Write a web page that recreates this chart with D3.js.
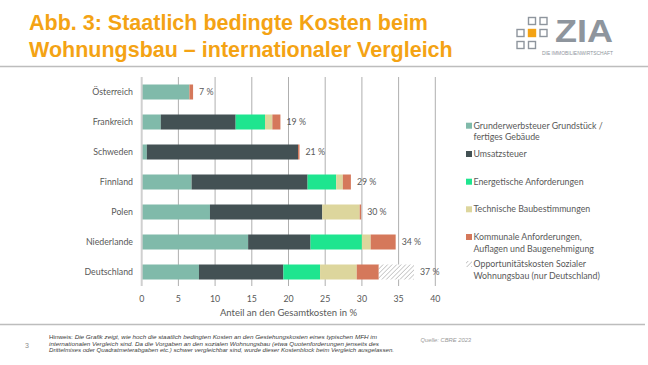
<!DOCTYPE html>
<html><head><meta charset="utf-8">
<script src="https://cdn.jsdelivr.net/npm/d3@7"></script>
<style>body{margin:0;background:#fff}svg{display:block}</style>
</head><body>
<svg id="c" width="648" height="365"></svg>
<script>
const categories = ["Österreich","Frankreich","Schweden","Finnland","Polen","Niederlande","Deutschland"];
const grunderwerb = [6.5, 2.6, 0.7, 6.8, 9.3, 14.5, 7.8];
const umsatz      = [0, 10.2, 20.6, 15.8, 15.3, 8.5, 11.5];
const energetisch = [0, 4.0, 0, 3.9, 0, 7.0, 5.0];
const technisch   = [0, 1.0, 0, 0.9, 5.1, 1.2, 5.0];
const kommunal    = [0.5, 1.1, 0.2, 1.1, 0.2, 3.4, 3.0];
const opportunitaet = [0, 0, 0, 0, 0, 0, 4.8];
const totalLabels = ["7 %","19 %","21 %","29 %","30 %","34 %","37 %"];
const xTicks = [0,5,10,15,20,25,30,35,40];
const seriesNames = ["grunderwerb","umsatz","energetisch","technisch","kommunal","opportunitaet"];
const legendLabels = [
  ["Grunderwerbsteuer Grundstück /","fertiges Gebäude"],
  ["Umsatzsteuer"],
  ["Energetische Anforderungen"],
  ["Technische Baubestimmungen"],
  ["Kommunale Anforderungen,","Auflagen und Baugenehmigung"],
  ["Opportunitätskosten Sozialer","Wohnungsbau (nur Deutschland)"]
];
const colors = {grunderwerb:"#80BAAA", umsatz:"#435154", energetisch:"#1EE58F", technisch:"#DDD69D", kommunal:"#D5785B", opportunitaet:"url(#hatch)"};

const table = categories.map((c,i)=>({cat:c, grunderwerb:grunderwerb[i], umsatz:umsatz[i], energetisch:energetisch[i], technisch:technisch[i], kommunal:kommunal[i], opportunitaet:opportunitaet[i], label:totalLabels[i]}));

const svg = d3.select("#c");
const defs = svg.append("defs");
const pat = defs.append("pattern").attr("id","hatch").attr("patternUnits","userSpaceOnUse").attr("width",3.2).attr("height",3.2).attr("patternTransform","rotate(45)");
pat.append("rect").attr("width",3.2).attr("height",3.2).attr("fill","#fff");
pat.append("line").attr("x1",0).attr("y1",0).attr("x2",0).attr("y2",3.2).attr("stroke","#a8a8a8").attr("stroke-width",1.1);

const txt = "#595959";
const chartFont = "Lato, 'Open Sans', sans-serif";
const fs = 8.8;

// Title
const title = svg.append("g").attr("font-family","'Liberation Sans',Arial,sans-serif").attr("font-weight","bold").attr("font-size",21.5).attr("fill","#F4A314");
title.append("text").attr("x",29).attr("y",30).text("Abb. 3: Staatlich bedingte Kosten beim");
title.append("text").attr("x",29).attr("y",56.5).text("Wohnungsbau – internationaler Vergleich");

// Logo
const logo = svg.append("g");
const sq = [[1,0],[2,0],[0,1],[1,1],[2,1],[0,2],[1,2]];
sq.forEach(([c,r])=>{
  const orange = (c===1&&r===1);
  logo.append("rect").attr("x",517+c*11.5).attr("y",17.5+r*12).attr("width",7).attr("height",7)
    .attr("fill",orange?"#F4A314":"#fff").attr("stroke",orange?"#F4A314":"#8E959D").attr("stroke-width",1.4);
});
logo.append("text").attr("x",555).attr("y",42).attr("font-family","'Liberation Sans',Arial,sans-serif").attr("font-weight","bold").attr("font-size",32).attr("fill","#8E959D").attr("textLength",58).attr("lengthAdjust","spacingAndGlyphs").text("ZIA");
logo.append("text").attr("x",542).attr("y",54.5).attr("font-family","'Liberation Sans',Arial,sans-serif").attr("font-size",5).attr("fill","#8E959D").attr("textLength",71).attr("lengthAdjust","spacingAndGlyphs").text("DIE IMMOBILIENWIRTSCHAFT");

// separators
svg.append("line").attr("x1",0).attr("x2",648).attr("y1",66.5).attr("y2",66.5).attr("stroke","#BDBDBD").attr("stroke-width",1.5);
svg.append("line").attr("x1",0).attr("x2",645).attr("y1",324.5).attr("y2",324.5).attr("stroke","#BDBDBD").attr("stroke-width",1.5);

// Scales
const x = d3.scaleLinear().domain([0,40]).range([141.7,435.3]);
const y = d3.scaleBand().domain(categories).range([77,287]).paddingInner(0.5).paddingOuter(0.25);

// gridlines
svg.append("g").selectAll("line").data(xTicks.filter(d=>d>0)).join("line")
  .attr("x1",d=>x(d)).attr("x2",d=>x(d)).attr("y1",77).attr("y2",286)
  .attr("stroke","#A6A6A6").attr("stroke-width",0.9);

// stacked bars
const stack = d3.stack().keys(seriesNames);
const stacked = stack(table);
svg.append("g").selectAll("g").data(stacked).join("g")
  .attr("fill",d=>colors[d.key])
  .selectAll("rect").data(d=>d.filter(s=>s[1]-s[0]>0)).join("rect")
  .attr("x",d=>x(d[0])).attr("width",d=>x(d[1])-x(d[0]))
  .attr("y",d=>y(d.data.cat)).attr("height",y.bandwidth());

// zero axis line
svg.append("line").attr("x1",x(0)).attr("x2",x(0)).attr("y1",77).attr("y2",286).attr("stroke","#D0D0D0").attr("stroke-width",2);

// total labels
const totals = table.map(d=>seriesNames.reduce((a,k)=>a+d[k],0));
svg.append("g").attr("font-family",chartFont).attr("font-size",fs).attr("fill",txt)
  .selectAll("text").data(table).join("text")
  .attr("x",(d,i)=>x(totals[i])+6).attr("y",d=>y(d.cat)+y.bandwidth()/2+3.1).text(d=>d.label);

// category labels
svg.append("g").attr("font-family",chartFont).attr("font-size",fs).attr("fill",txt).attr("text-anchor","end")
  .selectAll("text").data(categories).join("text")
  .attr("x",133).attr("y",d=>y(d)+y.bandwidth()/2+3.1).text(d=>d);

// x tick labels
svg.append("g").attr("font-family",chartFont).attr("font-size",fs).attr("fill",txt).attr("text-anchor","middle")
  .selectAll("text").data(xTicks).join("text")
  .attr("x",d=>x(d)).attr("y",301.5).text(d=>d);
svg.append("text").attr("x",288.5).attr("y",315.5).attr("text-anchor","middle").attr("font-family",chartFont).attr("font-size",9.5).attr("fill",txt).text("Anteil an den Gesamtkosten in %");

// legend
const legendY = [125.7,154,181.7,209.3,237,264];
const lg = svg.append("g").attr("font-family",chartFont).attr("font-size",fs).attr("fill",txt);
seriesNames.forEach((k,i)=>{
  const cy = legendY[i];
  lg.append("rect").attr("x",466).attr("y",cy-3).attr("width",6).attr("height",6).attr("fill",colors[k]);
  legendLabels[i].forEach((t,j)=>{
    lg.append("text").attr("x",473.5).attr("y",cy+3.1+j*11.6).text(t);
  });
});

// footer
svg.append("text").attr("x",25).attr("y",348).attr("font-family","'Liberation Sans',Arial,sans-serif").attr("font-size",7).attr("fill","#8c8c8c").text("3");
const fn = svg.append("g").attr("font-family","'Liberation Sans',Arial,sans-serif").attr("font-size",5.8).attr("fill","#404040").attr("font-style","italic");
const f1 = fn.append("text").attr("x",49).attr("y",339).attr("textLength",328).attr("lengthAdjust","spacingAndGlyphs");
f1.append("tspan").attr("font-style","normal").text("Hinweis: ");
f1.append("tspan").text("Die Grafik zeigt, wie hoch die staatlich bedingten Kosten an den Gestehungskosten eines typischen MFH im");
fn.append("text").attr("x",49).attr("y",345.5).attr("textLength",330).attr("lengthAdjust","spacingAndGlyphs").text("internationalen Vergleich sind. Da die Vorgaben an den sozialen Wohnungsbau (etwa Quotenforderungen jenseits des");
fn.append("text").attr("x",49).attr("y",352).attr("textLength",345).attr("lengthAdjust","spacingAndGlyphs").text("Drittelmixes oder Quadratmeterabgaben etc.) schwer vergleichbar sind, wurde dieser Kostenblock beim Vergleich ausgelassen.");
svg.append("text").attr("x",420.5).attr("y",342).attr("font-family","'Liberation Sans',Arial,sans-serif").attr("font-size",5.8).attr("font-style","italic").attr("fill","#9a9a9a").text("Quelle: CBRE 2023");
</script>
</body></html>
